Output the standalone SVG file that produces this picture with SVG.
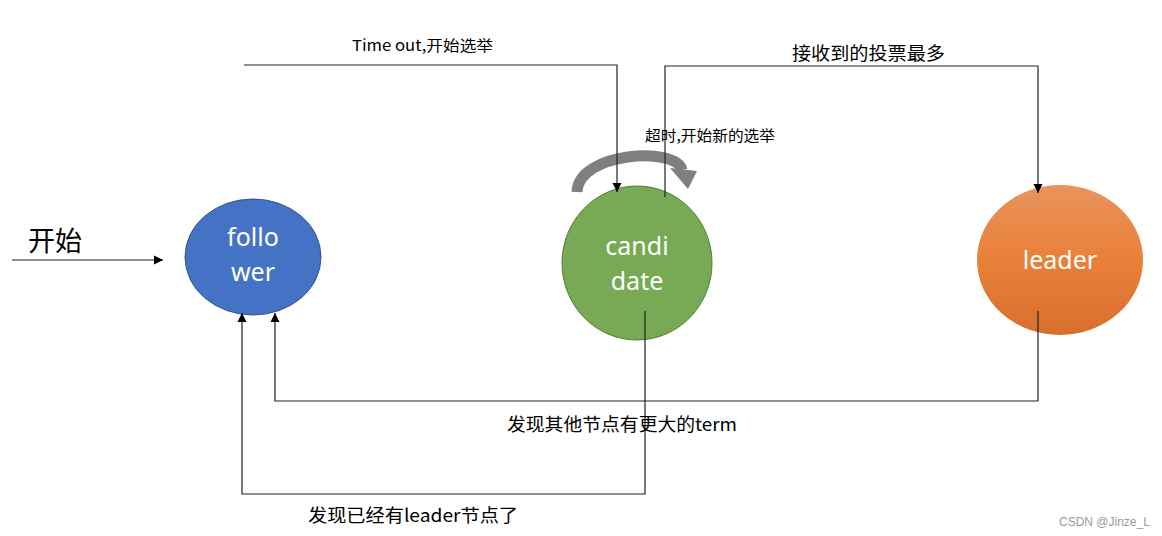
<svg xmlns="http://www.w3.org/2000/svg" width="1162" height="536" viewBox="0 0 1162 536">
<style>
.conn{fill:none;stroke:#222;stroke-width:1.2}
.lbl{font-family:"Noto Sans CJK SC","Noto Sans",sans-serif;fill:#000}
.node-t{font-family:"Noto Sans","Open Sans",sans-serif;font-size:25px;fill:#fff;text-anchor:middle}
</style>
<defs>
<marker id="ah" viewBox="0 0 10 10" refX="10" refY="5" markerWidth="9" markerHeight="10" markerUnits="userSpaceOnUse" orient="auto">
<path d="M0,0 L10,5 L0,10 Z" fill="#000"/>
</marker>
<linearGradient id="og" x1="0" y1="0" x2="0" y2="1">
<stop offset="0" stop-color="#e8945f"/>
<stop offset="0.5" stop-color="#e98038"/>
<stop offset="1" stop-color="#d96f2e"/>
</linearGradient>
</defs>
<rect width="1162" height="536" fill="#fff"/>

<g id="self-loop">
<path d="M577,192 C578,152 676,146 682,170" fill="none" stroke="#7f7f7f" stroke-width="11"/>
<polygon points="670,168 697,171 688,189" fill="#7f7f7f"/>
</g>

<g id="follower">
<ellipse cx="253" cy="257" rx="68" ry="58" fill="#4472c4" stroke="#2f528f" stroke-width="1"/>
<text class="node-t" x="253" y="246">follo</text>
<text class="node-t" x="253" y="281">wer</text>
</g>

<g id="candidate">
<ellipse cx="637" cy="263" rx="75" ry="77" fill="#78a955" stroke="#507e32" stroke-width="1"/>
<text class="node-t" x="637" y="255">candi</text>
<text class="node-t" x="637" y="290">date</text>
</g>

<g id="leader">
<ellipse cx="1060" cy="260" rx="83" ry="75" fill="url(#og)"/>
<text class="node-t" x="1060" y="269">leader</text>
</g>

<g id="connectors">
<line class="conn" x1="12" y1="260" x2="163" y2="260" marker-end="url(#ah)"/>
<polyline class="conn" points="244,65 617,65 617,192" marker-end="url(#ah)"/>
<polyline class="conn" points="665,197 665,66 1038,66 1038,193" marker-end="url(#ah)"/>
<polyline class="conn" points="1038,311 1038,401 275,401 275,313" marker-end="url(#ah)"/>
<polyline class="conn" points="645,311 645,494 242,494 242,313" marker-end="url(#ah)"/>
</g>

<g id="labels">
<text class="lbl" x="28" y="251" font-size="27">开始</text>
<text class="lbl" x="352" y="51" font-size="15" textLength="141" lengthAdjust="spacingAndGlyphs">Time out,开始选举</text>
<text class="lbl" x="792" y="60" font-size="18" textLength="153" lengthAdjust="spacingAndGlyphs">接收到的投票最多</text>
<text class="lbl" x="645" y="141" font-size="15" textLength="130" lengthAdjust="spacingAndGlyphs">超时,开始新的选举</text>
<text class="lbl" x="507" y="431" font-size="18" textLength="230" lengthAdjust="spacingAndGlyphs">发现其他节点有更大的term</text>
<text class="lbl" x="308" y="522" font-size="18" textLength="210" lengthAdjust="spacingAndGlyphs">发现已经有leader节点了</text>
<text x="1059" y="526" font-family="Liberation Sans,Arial,sans-serif" font-size="12" fill="#9a9a9a">CSDN @Jinze_L</text>
</g>
</svg>
